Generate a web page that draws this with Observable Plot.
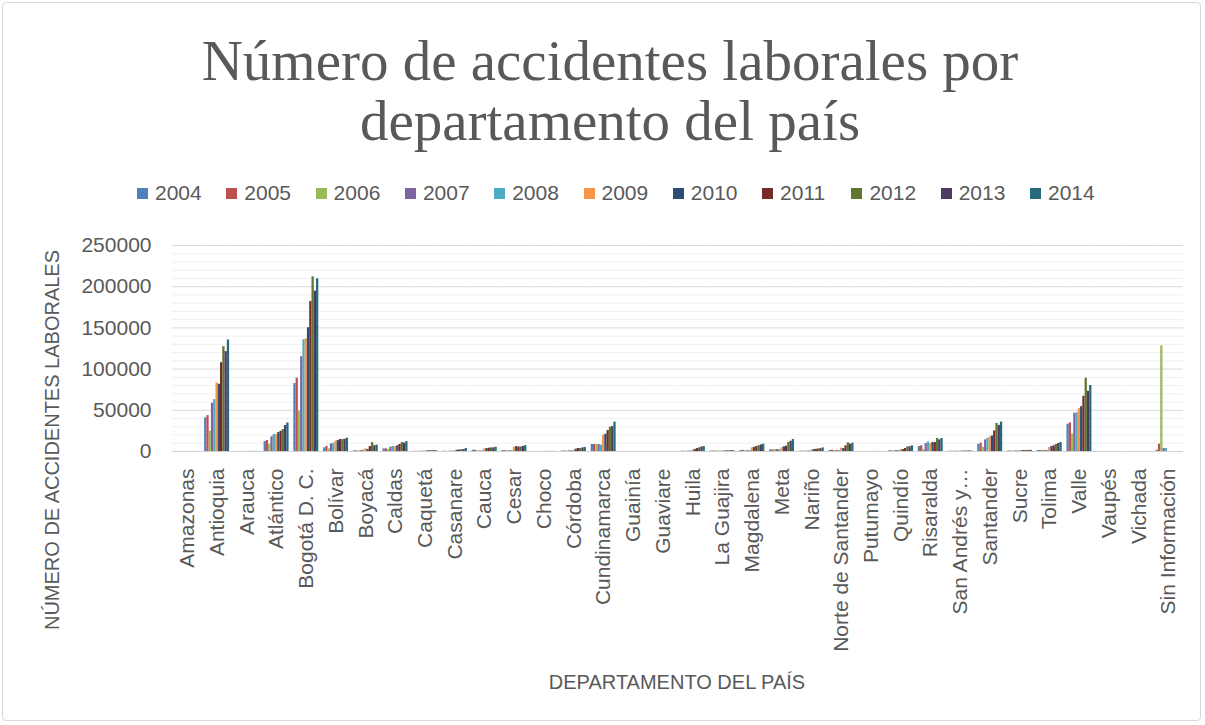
<!DOCTYPE html>
<html>
<head>
<meta charset="utf-8">
<script src="https://cdn.jsdelivr.net/npm/d3@7"></script>
<script src="https://cdn.jsdelivr.net/npm/@observablehq/plot@0.6"></script>
<style>
  html, body { margin: 0; padding: 0; background: #ffffff; }
  #chart { position: relative; width: 1205px; height: 725px; overflow: hidden; font-family: "Liberation Sans", Arial, sans-serif; color: #595959; }
  #frame { position: absolute; left: 2px; top: 2px; width: 1199px; height: 719px; border: 1px solid #d9d9d9; border-radius: 4px; box-sizing: border-box; }
  .title { position: absolute; left: 0; width: 1220px; text-align: center; font-family: "Liberation Serif", "DejaVu Serif", serif; font-size: 57px; line-height: 57px; color: #595959; white-space: nowrap; }
  .leg { position: absolute; top: 181px; height: 24px; display: flex; align-items: center; font-size: 21px; line-height: 24px; white-space: nowrap; }
  .leg .sw { width: 11px; height: 11px; margin-right: 7px; }
  #plot { position: absolute; left: 0; top: 220px; }
  #ytitle { position: absolute; left: 52px; top: 440px; transform: translate(-50%, -50%) rotate(-90deg); font-size: 20px; white-space: nowrap; }
  #xtitle { position: absolute; left: 677px; top: 682px; transform: translate(-50%, -50%); font-size: 20px; white-space: nowrap; }
</style>
</head>
<body>
<div id="chart">
  <div id="frame"></div>
  <div class="title" style="top:32px">Número de accidentes laborales por</div>
  <div class="title" style="top:92px">departamento del país</div>
  <div id="legend"></div>
  <div id="plot"></div>
  <div id="ytitle">NÚMERO DE ACCIDENTES LABORALES</div>
  <div id="xtitle">DEPARTAMENTO DEL PAÍS</div>
</div>
<script>
const categories = ["Amazonas","Antioquia","Arauca","Atlántico","Bogotá D. C.","Bolívar","Boyacá","Caldas","Caquetá","Casanare","Cauca","Cesar","Choco","Córdoba","Cundinamarca","Guainía","Guaviare","Huila","La Guajira","Magdalena","Meta","Nariño","Norte de Santander","Putumayo","Quindío","Risaralda","San Andrés y Providencia","Santander","Sucre","Tolima","Valle","Vaupés","Vichada","Sin Información"];
const categoryLabels = {"San Andrés y Providencia": "San Andrés y…"};
const years = ["2004","2005","2006","2007","2008","2009","2010","2011","2012","2013","2014"];
const colors = ["#4F81BD","#C0504D","#9BBB59","#8064A2","#4BACC6","#F79646","#2C4D75","#772C2A","#5F7530","#4D3B62","#276A7C"];

const v2004 = [20,40800,60,12100,82400,4400,800,3200,200,300,1500,1200,50,500,8500,20,40,300,500,1200,2000,300,1200,50,800,6100,300,8700,500,1200,33100,20,20,1600];
const v2005 = [20,43600,60,13300,88900,6100,900,3200,200,300,1500,1000,50,600,8500,20,40,400,600,1400,2000,400,1600,50,800,6900,300,10100,600,1200,34700,20,20,8900];
const v2006 = [20,24600,50,8500,49300,3200,700,2400,150,200,500,800,50,400,8500,20,40,300,700,800,2400,300,1200,50,800,2400,300,5000,500,1600,21400,20,20,128200];
const v2007 = [30,58600,80,17800,115100,9300,1200,5300,300,400,700,900,50,800,8500,20,40,500,400,1000,2400,500,1200,50,1200,9700,400,14100,700,1200,46500,20,20,3600];
const v2008 = [30,63000,80,20600,135700,10100,1500,6100,400,500,800,1000,60,1000,7700,20,40,600,500,1200,2400,700,1200,50,1200,11700,400,16000,800,1200,47000,20,20,3600];
const v2009 = [40,83200,100,20600,136900,12500,3200,6100,500,1000,3200,5000,60,1500,19800,20,40,1500,600,4400,4400,1500,4000,60,2400,9700,500,17600,900,4800,52000,20,20,0];
const v2010 = [40,81600,100,23000,150200,13300,2500,6900,700,1500,3600,6000,80,2800,21000,20,40,2500,700,5000,5700,2400,3600,60,2400,10900,500,18800,1000,6100,54400,20,20,0];
const v2011 = [50,107800,120,24600,182100,14500,6000,8500,900,1800,4000,5500,80,3600,25500,20,40,3500,800,6000,6500,2600,6900,60,3600,10900,500,25000,1100,6900,67000,20,20,0];
const v2012 = [50,127200,120,26700,212000,14500,10800,10900,1000,2200,4400,5500,100,3600,29500,20,40,4500,900,7000,10900,3200,10500,80,5700,15800,600,34100,1200,8500,89000,20,20,0];
const v2013 = [60,121200,140,31500,194700,14900,7000,10100,1000,2400,4400,6200,100,4400,30300,20,40,5500,1000,8000,12500,3400,8900,80,5700,14100,600,31700,1300,9700,73000,20,20,0];
const v2014 = [60,135300,140,34700,209600,16200,7800,12100,900,3600,5300,7200,120,4800,35600,20,40,6000,1000,8900,14500,4400,10100,80,6900,15800,600,35700,1400,10900,80100,20,20,0];

const yTicks = [0,50000,100000,150000,200000,250000];
const yMinorTicks = [10000,20000,30000,40000,60000,70000,80000,90000,110000,120000,130000,140000,160000,170000,180000,190000,210000,220000,230000,240000];

const series = [v2004,v2005,v2006,v2007,v2008,v2009,v2010,v2011,v2012,v2013,v2014];
const data = [];
series.forEach((vals, i) => vals.forEach((v, j) => data.push({dept: categories[j], year: years[i], value: v})));

// legend
const legend = document.getElementById("legend");
years.forEach((y, i) => {
  const item = document.createElement("div");
  item.className = "leg";
  item.style.left = (137 + 89.3 * i) + "px";
  item.innerHTML = `<span class="sw" style="background:${colors[i]}"></span><span>${y}</span>`;
  legend.appendChild(item);
});

const chart = Plot.plot({
  width: 1205,
  height: 505,
  marginTop: 25,
  marginBottom: 274,
  marginLeft: 172,
  marginRight: 22,
  style: {fontFamily: "'Liberation Sans', Arial, sans-serif", fontSize: "21px", color: "#595959", background: "transparent", overflow: "visible"},
  fx: {domain: categories, paddingInner: 0, paddingOuter: 0, round: false, axis: "bottom", label: null, tickSize: 0, tickPadding: 17, tickRotate: -90, tickFormat: d => categoryLabels[d] || d},
  x: {domain: years, paddingInner: 0, paddingOuter: 1.05, round: false, axis: null},
  y: {domain: [0, 250000], ticks: yTicks, tickFormat: d => String(d), tickSize: 0, tickPadding: 21, label: null},
  color: {domain: years, range: colors},
  marks: [
    Plot.ruleY(yMinorTicks, {stroke: "#efefef", strokeWidth: 1}),
    Plot.ruleY(yTicks, {stroke: "#d9d9d9", strokeWidth: 1}),
    Plot.barY(data, {fx: "dept", x: "year", y: "value", fill: "year"}),
    Plot.ruleY([0], {stroke: "#d0d0d0", strokeWidth: 1})
  ]
});
document.getElementById("plot").appendChild(chart);
</script>
</body>
</html>
